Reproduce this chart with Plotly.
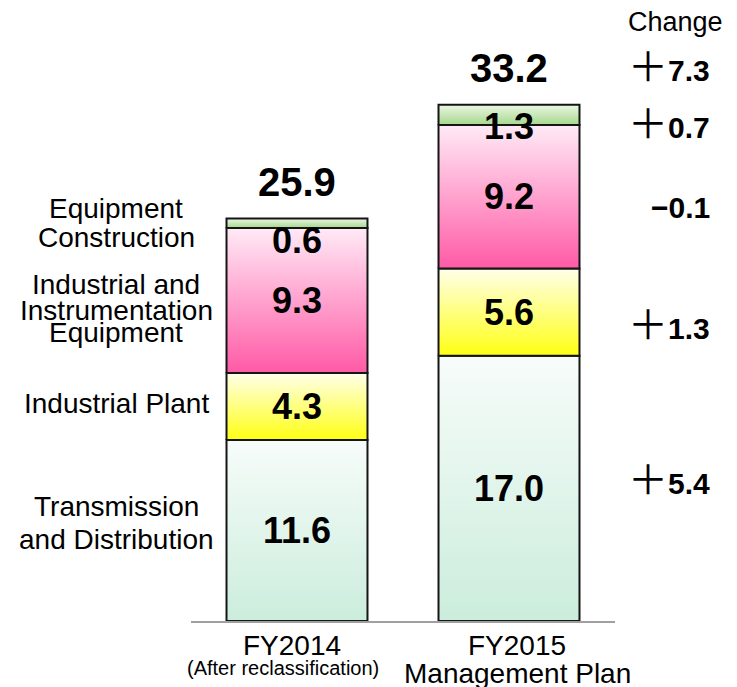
import numpy as np
import plotly.graph_objects as go

# values (billions of yen)
categories = ["FY2014", "FY2015"]
category_notes = ["(After reclassification)", "Management Plan"]
series_names = ["Transmission<br>and Distribution", "Industrial Plant",
                "Industrial and<br>Instrumentation<br>Equipment",
                "Equipment<br>Construction"]
td = [11.6, 17.0]
plant = [4.3, 5.6]
instr = [9.3, 9.2]
equip = [0.6, 1.3]
totals = [25.9, 33.2]
# change column, top to bottom: total, equip, instr, plant, td
changes = [7.3, 0.7, -0.1, 1.3, 5.4]

series = [td, plant, instr, equip]
# gradient colours (bottom, top) per series
colors = [("#cbeddc", "#f7fcfa"), ("#ffff14", "#ffffea"),
          ("#ff5aa6", "#ffeaf6"), ("#a6d88c", "#ebf7e4")]

FONT = "Liberation Sans, Arial, sans-serif"
# page pixel positions; the page body has an 8px margin
OFF = 8
W, H = 737 - OFF, 687 - OFF
PX_L, PX_R, PX_B = 191, 615, 621
PX_PER_UNIT = 15.6
BAR_W = 0.665
PLOT_H = PX_B - OFF

def px_x(px):
    return (px - PX_L) / (PX_R - PX_L)

def px_y(py):
    return (PX_B - py) / PLOT_H

fig = go.Figure()
ann = []
base = np.zeros(len(categories))
for vals, (c_bot, c_top) in zip(series, colors):
    for i, v in enumerate(vals):
        b = base[i]
        x0, x1 = i - BAR_W / 2, i + BAR_W / 2
        fig.add_trace(go.Scatter(
            x=[x0, x1, x1, x0, x0], y=[b, b, b + v, b + v, b],
            mode="lines", fill="toself",
            fillgradient=dict(type="vertical", colorscale=[[0, c_bot], [1, c_top]]),
            line=dict(color="#151515", width=2),
            hoverinfo="skip", showlegend=False))
        if v < 2:
            ann.append(dict(x=i, y=b + v, xref="x", yref="y", text=f"<b>{v:.1f}</b>",
                            yanchor="top", yshift=1, font=dict(size=36)))
        else:
            ann.append(dict(x=i, y=b + v / 2, xref="x", yref="y", text=f"<b>{v:.1f}</b>",
                            yanchor="middle", font=dict(size=36)))
    base += np.array(vals)

for i, t in enumerate(totals):
    ann.append(dict(x=i, y=base[i], xref="x", yref="y", text=f"<b>{t:.1f}</b>",
                    yanchor="middle", yshift=37, font=dict(size=40)))

# category labels under the axis
cat_x = [292, 517]
for i, c in enumerate(categories):
    ann.append(dict(x=px_x(cat_x[i]), y=px_y(645), xref="paper", yref="paper",
                    text=c, yanchor="middle", font=dict(size=28)))
ann.append(dict(x=px_x(283), y=px_y(668), xref="paper", yref="paper",
                text=category_notes[0], yanchor="middle", font=dict(size=20)))
ann.append(dict(x=px_x(517), y=px_y(673), xref="paper", yref="paper",
                text=category_notes[1], yanchor="middle", font=dict(size=28)))

# series names on the left, one annotation per line for tight spacing
line_y = [[506, 539], [404], [284, 310, 333], [208, 238]]
for name, ys in zip(series_names, line_y):
    for part, py in zip(name.split("<br>"), ys):
        ann.append(dict(x=px_x(116), y=px_y(py), xref="paper", yref="paper",
                        text=part, yanchor="middle", font=dict(size=28)))

# change column
ann.append(dict(x=px_x(675), y=px_y(22), xref="paper", yref="paper",
                text="Change", yanchor="middle", font=dict(size=27)))
change_y = [70, 127, 207, 328, 483]
for d, py in zip(changes, change_y):
    if d > 0:
        txt = f"<span style='font-size:40px'>＋</span><b>{d:.1f}</b>"
        shift = 3
    else:
        txt = f"<b>−{abs(d):.1f}</b>"
        shift = 0
    ann.append(dict(x=px_x(712), y=px_y(py), xref="paper", yref="paper",
                    text=txt, xanchor="right", yanchor="middle", yshift=shift,
                    font=dict(size=30, family="Liberation Sans, Noto Sans CJK JP")))

for a in ann:
    a["showarrow"] = False
    a.setdefault("xanchor", "center")

fig.update_layout(
    width=W, height=H,
    margin=dict(l=PX_L - OFF, r=W - (PX_R - OFF), t=0, b=H - PLOT_H),
    paper_bgcolor="white", plot_bgcolor="white",
    font=dict(family=FONT, color="black"),
    annotations=ann,
    xaxis=dict(range=[-0.5, 1.5], showline=True, linecolor="#a0a0a0", linewidth=2,
               showgrid=False, zeroline=False, showticklabels=False, ticks=""),
    yaxis=dict(range=[0, PLOT_H / PX_PER_UNIT], visible=False),
)
fig.write_html("out.html")
